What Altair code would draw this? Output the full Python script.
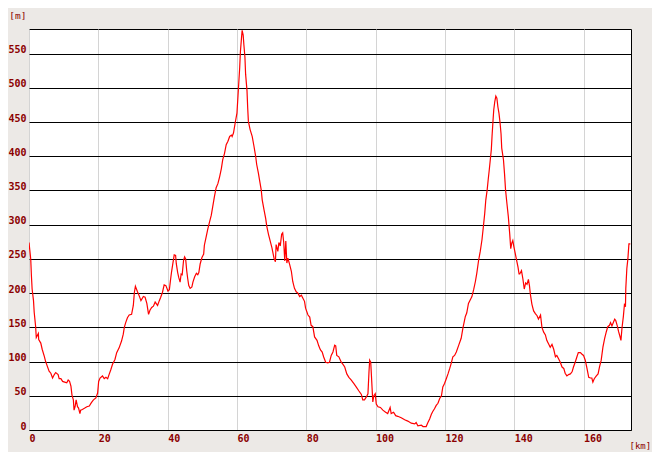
import pandas as pd
import altair as alt

# distance along the route [km] and elevation [m]
km = [
    0.0, 0.5, 0.7, 0.9, 1.3, 1.5, 1.9, 2.1, 2.7, 2.8, 3.4, 3.8, 4.4, 4.8, 5.3,
    5.8, 6.3, 6.8, 7.3, 7.7, 8.4, 8.7, 9.2, 9.7, 10.3, 10.9, 11.3, 11.7, 12.1,
    12.4, 12.8, 13.0, 13.3, 13.6, 14.0, 14.3, 14.7, 14.9, 15.4, 16.1, 16.7,
    17.4, 18.0, 18.6, 19.3, 19.8, 20.1, 20.5, 21.2, 21.7, 22.2, 22.7, 23.1,
    23.6, 24.1, 24.8, 25.3, 26.0, 26.7, 27.2, 27.5, 27.9, 28.4, 28.9, 29.6,
    30.1, 30.4, 30.7, 31.3, 31.8, 32.3, 33.0, 33.5, 34.0, 34.5, 34.9, 35.4,
    35.9, 36.4, 37.1, 37.6, 38.0, 38.5, 39.0, 39.5, 40.1, 40.5, 40.8, 41.1,
    41.5, 41.9, 42.3, 42.5, 42.9, 43.2, 43.6, 43.9, 44.2, 44.6, 44.9, 45.2,
    45.5, 45.8, 46.1, 46.5, 47.0, 47.3, 47.8, 48.3, 48.7, 49.0, 49.4, 49.9,
    50.4, 50.6, 51.1, 51.6, 52.1, 52.6, 53.0, 53.5, 54.0, 54.5, 55.0, 55.5,
    55.9, 56.4, 56.9, 57.4, 57.9, 58.4, 58.6, 59.0, 59.5, 60.0, 60.3, 60.5,
    60.8, 61.0, 61.3, 61.5, 61.8, 62.0, 62.3, 62.5, 62.9, 63.1, 63.3, 63.8,
    64.4, 64.9, 65.4, 65.7, 66.2, 66.5, 67.0, 67.3, 67.8, 68.3, 68.6, 69.1,
    69.6, 70.1, 70.7, 71.1, 71.3, 71.8, 72.1, 72.5, 72.9, 73.2, 73.5, 73.8,
    74.1, 74.4, 74.7, 75.2, 75.7, 76.1, 76.6, 77.1, 77.6, 78.1, 78.6, 79.0,
    79.5, 79.8, 80.5, 81.0, 81.4, 81.9, 82.4, 83.1, 83.6, 84.1, 84.6, 85.0,
    85.6, 86.2, 86.7, 87.2, 87.7, 88.2, 88.5, 88.8, 89.4, 90.1, 90.6, 91.1,
    91.7, 92.3, 93.0, 93.7, 94.4, 95.2, 95.9, 96.3, 96.8, 97.3, 97.8, 98.1,
    98.3, 98.6, 98.8, 99.2, 99.5, 99.9, 100.2, 100.7, 101.4, 102.1, 102.9,
    103.5, 104.2, 104.5, 105.2, 105.8, 106.4, 107.4, 108.4, 109.3, 110.3,
    111.3, 111.7, 112.2, 113.2, 113.7, 114.6, 115.1, 115.6, 116.1, 116.5,
    117.0, 117.5, 118.0, 118.5, 119.0, 119.4, 119.9, 120.4, 120.9, 121.4,
    121.8, 122.3, 122.8, 123.3, 124.0, 124.7, 125.2, 125.9, 126.3, 126.8,
    127.3, 127.8, 128.3, 128.8, 129.2, 129.7, 130.2, 130.7, 131.1, 131.5,
    131.8, 132.2, 132.5, 132.8, 133.1, 133.4, 133.6, 133.9, 134.1, 134.4,
    134.7, 135.0, 135.3, 135.6, 135.9, 136.2, 136.4, 136.9, 137.2, 137.5,
    137.9, 138.3, 138.7, 139.0, 139.3, 139.6, 139.9, 140.3, 140.7, 141.1,
    141.4, 141.6, 142.1, 142.5, 142.9, 143.3, 143.7, 144.1, 144.4, 144.7,
    145.1, 145.6, 146.1, 146.6, 147.0, 147.6, 148.0, 148.5, 149.0, 149.4,
    149.9, 150.4, 150.9, 151.4, 151.9, 152.3, 152.8, 153.3, 153.8, 154.3,
    154.7, 155.2, 155.7, 156.2, 156.7, 157.1, 157.6, 158.1, 158.5, 159.1,
    159.5, 160.0, 160.5, 161.0, 161.5, 162.0, 162.4, 162.7, 163.1, 163.7,
    164.2, 164.6, 165.1, 165.6, 166.1, 166.6, 167.0, 167.5, 167.8, 168.2,
    168.6, 169.0, 169.3, 169.8, 170.1, 170.5, 170.8, 171.1, 171.5, 171.8,
    172.1, 172.2, 172.5, 172.8, 173.1, 173.5,
]
elevation = [
    274, 250, 225, 206, 189, 172, 152, 135, 141, 132, 127, 118, 108, 100, 93,
    86, 83, 76, 81, 84, 81, 75, 75, 71, 70, 69, 73, 71, 64,
    51, 44, 29, 34, 44, 34, 32, 24, 29, 30, 32, 34,
    35, 40, 44, 47, 54, 71, 76, 79, 75, 77, 75, 81,
    88, 96, 103, 113, 120, 130, 140, 150, 157, 164, 168, 169,
    182, 201, 210, 202, 196, 189, 195, 194, 185, 169, 175, 179,
    181, 187, 182, 189, 194, 201, 212, 211, 203, 205, 218, 230,
    243, 256, 255, 243, 230, 223, 216, 228, 227, 248, 253, 250,
    233, 221, 211, 207, 209, 216, 224, 229, 227, 230, 243, 252,
    257, 270, 282, 294, 304, 314, 326, 341, 354, 360, 370, 382,
    395, 404, 417, 422, 429, 431, 429, 434, 449, 463, 488, 505,
    530, 553, 572, 584, 577, 563, 545, 520, 496, 471, 451, 439,
    429, 415, 400, 388, 375, 366, 351, 336, 322, 309, 298, 286,
    276, 266, 251, 246, 271, 261, 274, 269, 286, 288, 274, 247,
    276, 244, 251, 242, 232, 217, 207, 202, 200, 195, 197, 193,
    188, 178, 168, 165, 153, 151, 136, 131, 123, 117, 114, 107,
    99, 98, 99, 109, 114, 124, 123, 109, 107, 99, 96, 92,
    82, 77, 73, 68, 63, 57, 52, 44, 44, 48, 53, 85,
    102, 99, 80, 41, 50, 53, 38, 34, 33, 29, 26,
    24, 33, 24, 26, 21, 20, 18, 15, 13, 10,
    9, 11, 6, 7, 5, 5, 11, 16, 23, 27,
    31, 36, 39, 46, 50, 63, 68, 75, 82, 90,
    97, 107, 109, 114, 124, 134, 149, 166, 171, 185,
    190, 195, 205, 217, 229, 247, 261, 278, 297, 317,
    336, 351, 366, 380, 395, 410, 429, 453, 468, 480,
    488, 485, 472, 463, 450, 433, 412, 395, 375, 351,
    331, 312, 287, 265, 273, 277, 268, 258, 248, 238,
    228, 228, 233, 221, 206, 215, 213, 220, 211, 197,
    184, 174, 170, 167, 162, 168, 150, 143, 139, 131,
    126, 121, 125, 118, 107, 109, 104, 99, 92, 90,
    83, 79, 81, 82, 85, 92, 99, 107, 113, 113,
    111, 109, 102, 90, 77, 76, 76, 70, 75, 79,
    82, 92, 102, 121, 134, 144, 151, 153, 157, 152,
    157, 162, 160, 151, 144, 137, 131, 149, 166, 183,
    180, 207, 236, 250, 272, 272,
]

x_ticks = [0, 20, 40, 60, 80, 100, 120, 140, 160]
y_ticks = [0, 50, 100, 150, 200, 250, 300, 350, 400, 450, 500, 550]

df = pd.DataFrame({"km": km, "elevation": elevation})

label_color = "#8b0000"
font = "DejaVu Sans Mono"

chart = alt.Chart(df).mark_line(color="#ff0000", strokeWidth=1.2, clip=True).encode(
    x=alt.X(
        "km:Q",
        scale=alt.Scale(domain=[0, 173.7], nice=False, zero=False),
        axis=alt.Axis(
            values=x_ticks, title="[km]", titleAngle=0, titleX=600, titleY=18,
            titleAlign="left", titleBaseline="alphabetic", titleColor=label_color,
            titleFont=font, titleFontSize=9, titleFontWeight="normal",
            labelAlign="left", labelBaseline="top", labelPadding=3,
            labelColor=label_color, labelFont=font, labelFontSize=10,
            labelFontWeight="bold", labelFlush=False, ticks=False, domain=False,
            gridColor="#d4d4d4", gridOpacity=1, gridWidth=1,
        ),
    ),
    y=alt.Y(
        "elevation:Q",
        scale=alt.Scale(domain=[0, 586], nice=False),
        axis=alt.Axis(
            values=y_ticks, title="[m]", titleAngle=0, titleX=-3, titleY=-11,
            titleAlign="right", titleBaseline="alphabetic", titleColor=label_color,
            titleFont=font, titleFontSize=9.5, titleFontWeight="normal",
            labelAlign="right", labelBaseline="alphabetic", labelPadding=3,
            labelOffset=-1, labelColor=label_color, labelFont=font,
            labelFontSize=10, labelFontWeight="bold", labelFlush=False,
            ticks=False, domain=False,
            gridColor="#000000", gridOpacity=1, gridWidth=1,
        ),
    ),
).properties(
    width=602,
    height=401,
    autosize=alt.AutoSizeParams(type="none"),
    padding={"left": 21, "top": 21, "right": 21, "bottom": 22},
    background="#ece9e6",
).configure_view(
    fill="#ffffff", stroke="#000000", strokeWidth=1
)

chart.save("out.html", embed_options={"renderer": "svg", "actions": False})
